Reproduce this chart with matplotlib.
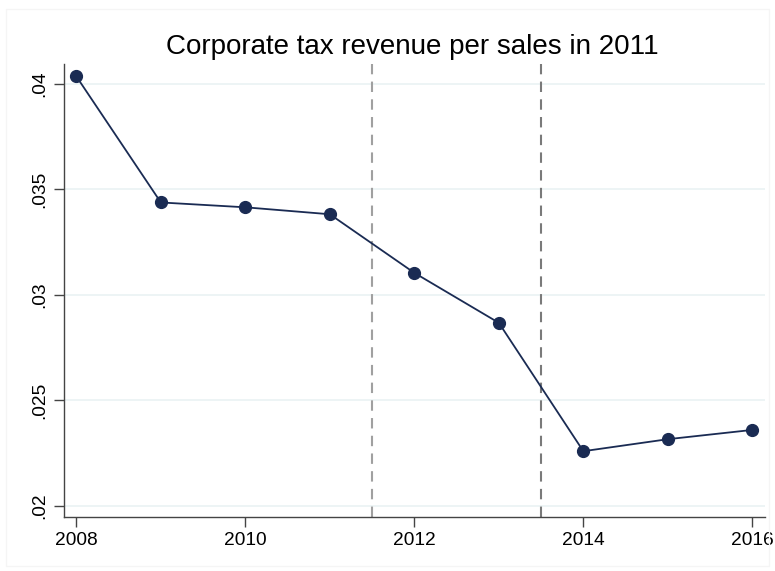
import matplotlib.pyplot as plt
from matplotlib.patches import Rectangle

plt.rcParams['font.family'] = ['Liberation Sans', 'DejaVu Sans']

years = [2008, 2009, 2010, 2011, 2012, 2013, 2014, 2015, 2016]
tax_per_sales = [0.04036, 0.03438, 0.03415, 0.03382, 0.03104, 0.02867, 0.02258, 0.02315, 0.02359]
event_lines = [2011.5, 2013.5]
event_colors = ['#a0a0a0', '#7a7a7a']
x_ticks = [2008, 2010, 2012, 2014, 2016]
y_ticks = [0.02, 0.025, 0.03, 0.035, 0.04]
y_labels = ['.02', '.025', '.03', '.035', '.04']

fig = plt.figure(figsize=(7.75, 5.71), dpi=100)
ax = fig.add_axes([0.0826, 0.0946, 0.9045, 0.7934])

# faint graph region border
fig.patches.append(Rectangle((6 / 775, 5 / 571), 763 / 775, 557 / 571,
                             transform=fig.transFigure, fill=False,
                             edgecolor='#f5f5f5', linewidth=1))

for y in y_ticks:
    ax.axhline(y, color='#eaf2f3', linewidth=1.2, zorder=0)

for x, c in zip(event_lines, event_colors):
    ax.axvline(x, color=c, linestyle=(0, (5, 3.5)), linewidth=1.5, zorder=1)

ax.plot(years, tax_per_sales, color='#1a2b53', linewidth=1.3, marker='o',
        markersize=8.5, zorder=3)

ax.set_xlim(2007.854, 2016.15)
ax.set_ylim(0.01946, 0.04095)
ax.set_xticks(x_ticks)
ax.set_xticklabels([str(x) for x in x_ticks], fontsize=13.8)
ax.set_yticks(y_ticks)
ax.set_yticklabels(y_labels, fontsize=13.8, rotation=90, va='center')

for s in ['top', 'right']:
    ax.spines[s].set_visible(False)
for s in ['left', 'bottom']:
    ax.spines[s].set_color('#444444')
    ax.spines[s].set_linewidth(1)
ax.tick_params(length=7, width=1, color='#444444', pad=4)

fig.text(0.532, 0.918, 'Corporate tax revenue per sales in 2011', ha='center',
         va='center', fontsize=20)

fig.savefig('out.png', dpi=100, facecolor='white')
